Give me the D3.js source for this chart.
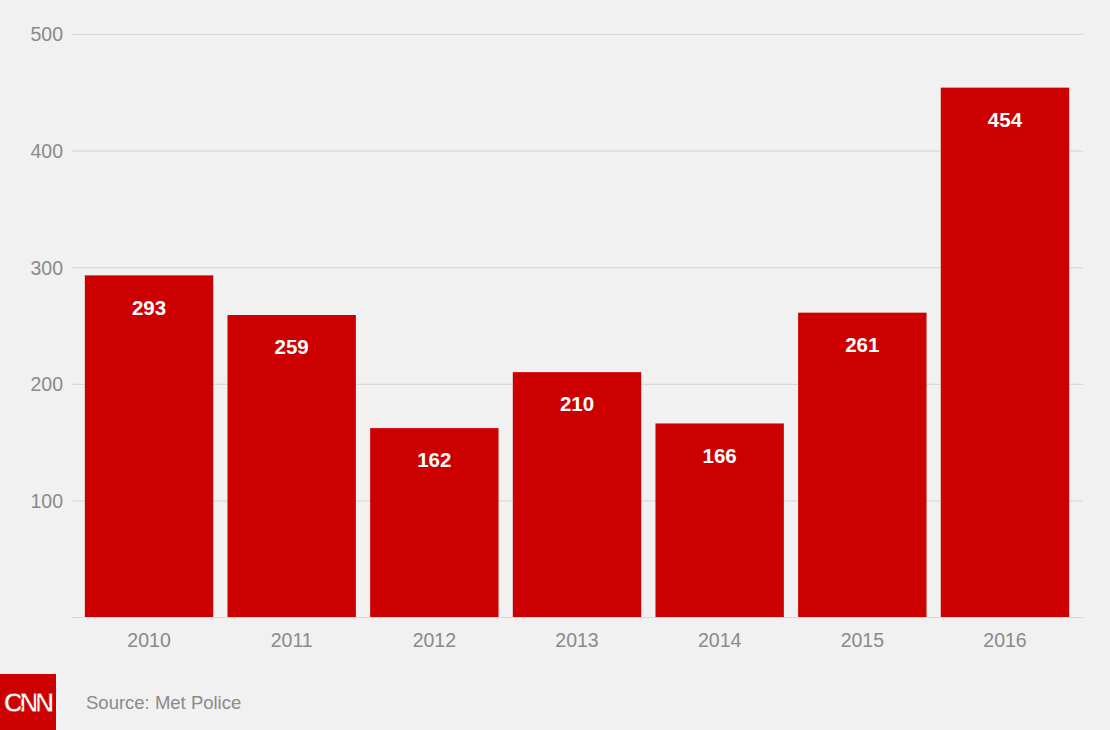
<!DOCTYPE html>
<html>
<head>
<meta charset="utf-8">
<script src="https://cdn.jsdelivr.net/npm/d3@7"></script>
<style>
  html, body { margin: 0; padding: 0; background: #f1f1f1; }
  svg { display: block; font-family: "Liberation Sans", Arial, sans-serif; }
</style>
</head>
<body>
<svg id="chart" width="1110" height="730"></svg>
<script>
const years = ["2010", "2011", "2012", "2013", "2014", "2015", "2016"];
const values = [293, 259, 162, 210, 166, 261, 454];
const yTicks = [100, 200, 300, 400, 500];
const sourceText = "Source: Met Police";

const svg = d3.select("#chart");
svg.append("rect").attr("width", 1110).attr("height", 730).attr("fill", "#f1f1f1");

const x = d3.scaleBand().domain(years).range([77.7, 1076.3]).paddingInner(0.1).paddingOuter(0.05);
const y = d3.scaleLinear().domain([0, 500]).range([617, 34]);

// gridlines
svg.append("g").selectAll("line").data(yTicks).join("line")
  .attr("x1", 72).attr("x2", 1083)
  .attr("y1", d => y(d) + 0.5).attr("y2", d => y(d) + 0.5)
  .attr("stroke", "#d9d9d9").attr("stroke-width", 1.2);

// baseline
svg.append("line").attr("x1", 72).attr("x2", 1083)
  .attr("y1", y(0) + 0.5).attr("y2", y(0) + 0.5)
  .attr("stroke", "#d9d9d9").attr("stroke-width", 1.2);

// y-axis labels
const yAxis = d3.axisLeft(y).tickValues(yTicks).tickSize(0).tickPadding(0);
const gy = svg.append("g").attr("transform", "translate(63,0)").call(yAxis);
gy.select(".domain").remove();
gy.selectAll("text").attr("fill", "#8a8a8a").attr("font-size", 19.5).attr("dy", "0.35em");

// bars
svg.append("g").selectAll("rect").data(values).join("rect")
  .attr("x", (d, i) => x(years[i]))
  .attr("width", x.bandwidth())
  .attr("y", d => y(d))
  .attr("height", d => y(0) - y(d))
  .attr("fill", "#cc0000");

// bar labels
svg.append("g").selectAll("text").data(values).join("text")
  .attr("x", (d, i) => x(years[i]) + x.bandwidth() / 2)
  .attr("y", d => y(d) + 32)
  .attr("dy", "0.35em")
  .attr("text-anchor", "middle")
  .attr("fill", "#ffffff")
  .attr("font-weight", "bold")
  .attr("font-size", 20.5)
  .text(d => d);

// x-axis labels
const xAxis = d3.axisBottom(x).tickSize(0).tickPadding(0);
const gx = svg.append("g").attr("transform", "translate(0,640)").call(xAxis);
gx.select(".domain").remove();
gx.selectAll("text").attr("fill", "#8a8a8a").attr("font-size", 19.5).attr("dy", "0.35em");

// CNN logo
svg.append("rect").attr("x", 0).attr("y", 674).attr("width", 56).attr("height", 56).attr("fill", "#cc0000");
svg.append("text").attr("x", 27).attr("y", 703).attr("dy", "0.35em")
  .attr("text-anchor", "middle").attr("fill", "#ffffff").attr("stroke", "#cc0000").attr("stroke-width", 0.8)
  .attr("font-size", 27).attr("font-weight", "bold").attr("letter-spacing", -4)
  .attr("font-family", "'Liberation Sans', Arial, sans-serif")
  .text("CNN");

// source
svg.append("text").attr("x", 86).attr("y", 703).attr("dy", "0.35em")
  .attr("fill", "#8a8a8a").attr("font-size", 18.5).text(sourceText);
</script>
</body>
</html>
